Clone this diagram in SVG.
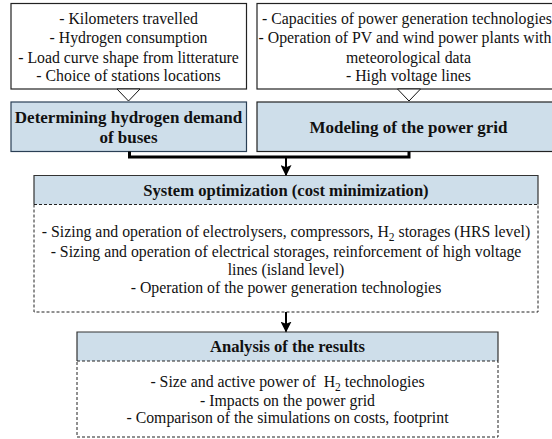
<svg xmlns="http://www.w3.org/2000/svg" width="552" height="439" viewBox="0 0 552 439">
<style>
text{fill:#111;text-anchor:middle}
.t{font-size:15.8px}
.h{font-size:16.6px;font-weight:bold}
.hb{font-size:17px;font-weight:bold}
.box{fill:#fff;stroke:#222;stroke-width:1.2}
.blue{fill:#cedeea;stroke:#2a3f55;stroke-width:1.2}
.hdr{fill:#cedeea;stroke:none}
.solid{fill:none;stroke:#333;stroke-width:1.2}
.dash{fill:none;stroke:#222;stroke-width:1;stroke-dasharray:3,2}
.tri{fill:#fff;stroke:#111;stroke-width:1}
.conn{fill:none;stroke:#000;stroke-width:3}
.arr{fill:none;stroke:#000;stroke-width:2}
</style>
<defs>
<marker id="ah" viewBox="0 0 10 10" refX="9" refY="5" markerWidth="5.5" markerHeight="5.5" orient="auto" markerUnits="strokeWidth">
<path d="M0,0 L10,5 L0,10 L2,5 Z" fill="#000"/>
</marker>
</defs>
<g font-family="'Liberation Serif', 'DejaVu Serif', serif">
<g id="input-buses">
<rect class="box" x="11" y="3.5" width="235.5" height="85.5"/>
<text class="t" x="128.5" y="24">- Kilometers travelled</text>
<text class="t" x="128.5" y="43">- Hydrogen consumption</text>
<text class="t" x="128.5" y="62.5">- Load curve shape from litterature</text>
<text class="t" x="128.5" y="81">- Choice of stations locations</text>
<polygon class="tri" points="117,89 140,89 128.5,101"/>
</g>

<g id="input-grid">
<rect class="box" x="257" y="3.5" width="303" height="85.5"/>
<text class="t" x="407" y="24">- Capacities of power generation technologies</text>
<text class="t" x="405" y="43">- Operation of PV and wind power plants with</text>
<text class="t" x="408.5" y="62.5">meteorological data</text>
<text class="t" x="408.5" y="81">- High voltage lines</text>
<polygon class="tri" points="397.5,89 420.5,89 409,101"/>
</g>

<g id="buses-demand">
<rect class="blue" x="11" y="102" width="235.5" height="49.5"/>
<text class="hb" x="128.5" y="122.5">Determining hydrogen demand</text>
<text class="hb" x="128.5" y="142.5">of buses</text>
</g>

<g id="power-grid">
<rect class="blue" x="257" y="102" width="303" height="49.5" style="stroke:#222"/>
<text class="hb" x="408.5" y="132.5">Modeling of the power grid</text>
</g>

<g id="system-optimization">
<rect class="hdr" x="34" y="175.5" width="504" height="29"/>
<path class="solid" d="M34,204.5 V175.5 H538 V204.5"/>
<rect class="dash" x="34" y="204.5" width="504" height="107.5"/>
<text class="h" x="286" y="195.5">System optimization (cost minimization)</text>
<text class="t" x="286" y="237">- Sizing and operation of electrolysers, compressors, H<tspan font-size="11.5" dy="4">2</tspan><tspan dy="-4"> storages (HRS level)</tspan></text>
<text class="t" x="286" y="257">- Sizing and operation of electrical storages, reinforcement of high voltage</text>
<text class="t" x="286" y="274.5">lines (island level)</text>
<text class="t" x="286" y="293">- Operation of the power generation technologies</text>
</g>

<g id="analysis">
<rect class="hdr" x="77" y="332" width="421" height="29"/>
<path class="solid" d="M77,361 V332 H498 V361"/>
<rect class="dash" x="77" y="361" width="421" height="76"/>
<text class="h" x="287.5" y="351.5">Analysis of the results</text>
<text class="t" x="287.5" y="387">- Size and active power of &#160;H<tspan font-size="11.5" dy="4">2</tspan><tspan dy="-4"> technologies</tspan></text>
<text class="t" x="287.5" y="406">- Impacts on the power grid</text>
<text class="t" x="287.5" y="423">- Comparison of the simulations on costs, footprint</text>
</g>

<g id="connectors">
<path class="conn" d="M129.5,151.5 V157 H409 V151.5"/>
<path class="arr" d="M286,157 V175" marker-end="url(#ah)"/>
<path class="arr" d="M286,312 V331.5" marker-end="url(#ah)"/>
</g>
</g>
</svg>
